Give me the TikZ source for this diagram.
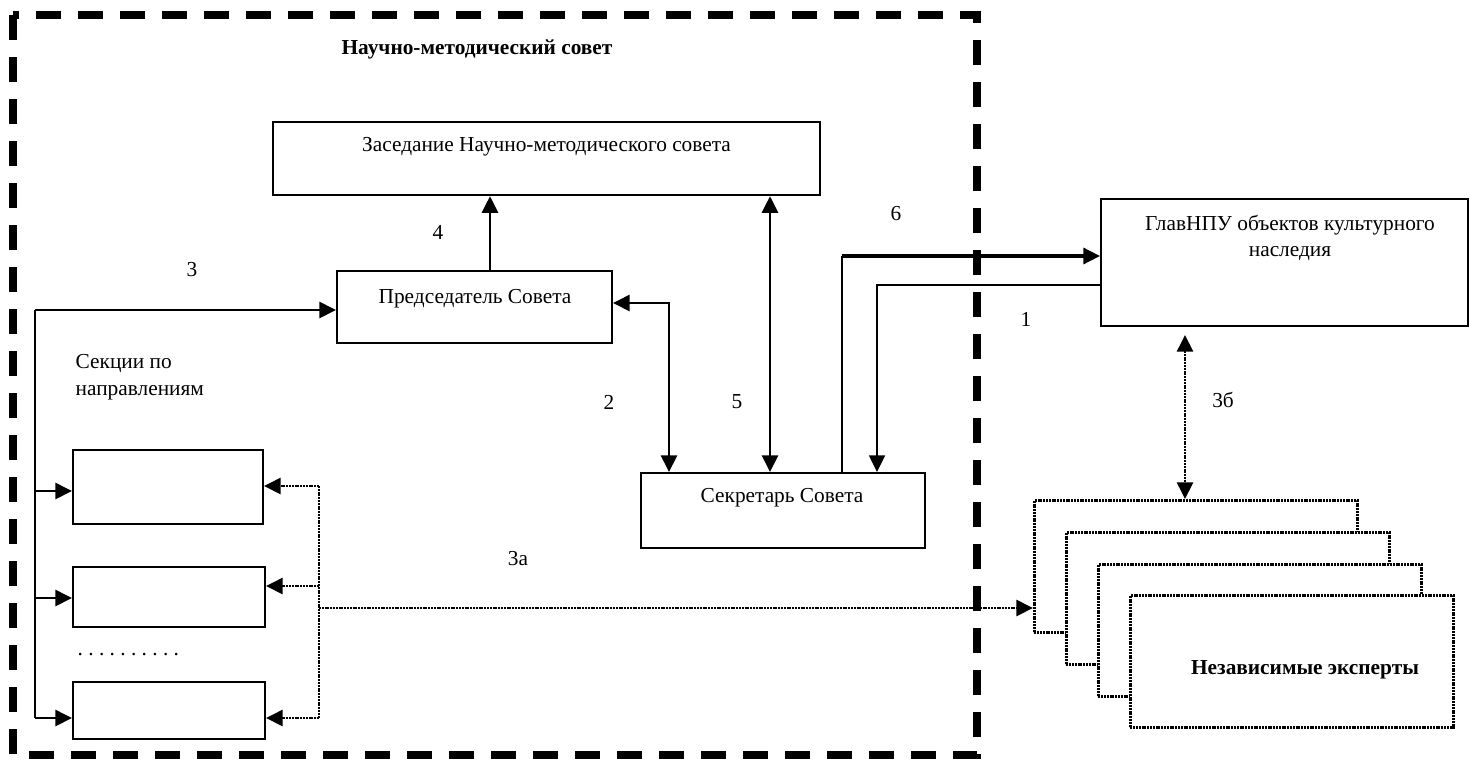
\documentclass[tikz,border=0pt]{standalone}
\usepackage{fontspec}
\setmainfont{Liberation Serif}
\usetikzlibrary{arrows.meta}

\begin{document}
\begin{tikzpicture}[x=0.75pt,y=-0.75pt,
	box/.style={draw,line width=1.5pt,inner sep=0pt},
	expbox/.style={draw,fill=white,line width=2pt,dash pattern=on 1.5pt off 0.6pt,minimum width=242.25pt,minimum height=99pt,anchor=north west,inner sep=0pt},
	lbl/.style={font=\fontsize{16}{20}\selectfont},
	tip/.style={-{Triangle[length=12.5pt,width=12pt]}},
	tips/.style={{Triangle[length=12.5pt,width=12pt]}-{Triangle[length=12.5pt,width=12pt]}},
	dots/.style={line width=2pt,dash pattern=on 1.5pt off 0.6pt}]
	\useasboundingbox (0,0) rectangle (1470,760);
	\draw[line width=6pt,dash pattern=on 19pt off 12.5pt] (13,15) rectangle (977,755);
	\node[lbl,font=\fontsize{16}{20}\selectfont\bfseries] (title) at (477,49) {Научно-методический совет};

	\node[box,minimum width=410pt,minimum height=55pt] (zas) at (546.5,158.5) {};
	\node[lbl] (zas-t) at (546.5,147) {Заседание Научно-методического совета};
	\node[box,minimum width=206.25pt,minimum height=54pt] (pred) at (474.5,307) {};
	\node[lbl] (pred-t) at (475,299) {Председатель Совета};
	\node[box,minimum width=213pt,minimum height=56.25pt] (sek) at (783,510.5) {};
	\node[lbl] (sek-t) at (782,498) {Секретарь Совета};
	\node[box,minimum width=275.25pt,minimum height=95.25pt] (glav) at (1284.5,262.5) {};
	\node[lbl,align=center] (glav-t) at (1290,238) {ГлавНПУ объектов культурного\\наследия};

	\node[lbl,align=left,anchor=west] (sect-t) at (71,377) {Секции по\\направлениям};
	\node[box,minimum width=142.5pt,minimum height=55.5pt] (sec1) at (168,487) {};
	\node[box,minimum width=144pt,minimum height=45pt] (sec2) at (169,597) {};
	\node[box,minimum width=144pt,minimum height=42.75pt] (sec3) at (169,710.5) {};
	\node[lbl,anchor=west] (more) at (73,655) {.\ .\ .\ .\ .\ .\ .\ .\ .\ .};

	\foreach \i/\x/\y in {1/1033/499,2/1065/531,3/1097/563,4/1129/594}
		\node[expbox] (e\i) at (\x,\y) {};
	\node[lbl,font=\fontsize{16}{20}\selectfont\bfseries] (exp-t) at (1305,670) {Независимые эксперты};

	\coordinate (c3) at (35,310);
	\coordinate (c3e) at (35,718);
	\draw[line width=1.5pt] (c3) -- (c3e);
	\draw[line width=2pt,tip] (c3) -- (c3 -| pred.west);
	\foreach \s/\y in {sec1/491,sec2/598,sec3/718} {
		\coordinate (b\s) at (35,\y);
		\draw[line width=2pt,tip] (b\s) -- (b\s -| \s.west);
	}
	\coordinate (c4) at (490,0);
	\draw[line width=2pt,tip] (c4 |- pred.north) -- (c4 |- zas.south);
	\coordinate (c2) at (669,303);
	\draw[line width=2pt,tips] (c2 -| pred.east) -- (c2) -- (c2 |- sek.north);
	\coordinate (c5) at (770,0);
	\draw[line width=2pt,tips] (c5 |- zas.south) -- (c5 |- sek.north);
	\coordinate (c6) at (842,256);
	\draw[line width=1.1pt] (c6 |- sek.north) -- (c6);
	\draw[line width=2.5pt,tip] (c6) -- (c6 -| glav.west);
	\coordinate (c1) at (877,285);
	\draw[line width=1.1pt,tip] (c1 -| glav.west) -- (c1) -- (c1 |- sek.north);

	\coordinate (d1) at (319,486);
	\coordinate (d2) at (319,586);
	\coordinate (d3) at (319,718);
	\draw[dots] (d1) -- (d3);
	\foreach \i in {1,2,3}
		\draw[dots,tip] (d\i) -- (d\i -| sec\i.east);
	\coordinate (c3a) at (319,608);
	\draw[dots,tip] (c3a) -- (c3a -| e1.west);
	\coordinate (c3b) at (1185,335);
	\draw[dots,tips] (c3b) -- (c3b |- e1.north);

	\node[lbl] (n3) at (192,270) {3};
	\node[lbl] (n4) at (438,232) {4};
	\node[lbl] (n2) at (609,402) {2};
	\node[lbl] (n5) at (737,402) {5};
	\node[lbl] (n6) at (896,214) {6};
	\node[lbl] (n1) at (1026,319) {1};
	\node[lbl] (n3b) at (1223,400) {3б};
	\node[lbl] (n3a) at (518,559) {3а};
\end{tikzpicture}
\end{document}
